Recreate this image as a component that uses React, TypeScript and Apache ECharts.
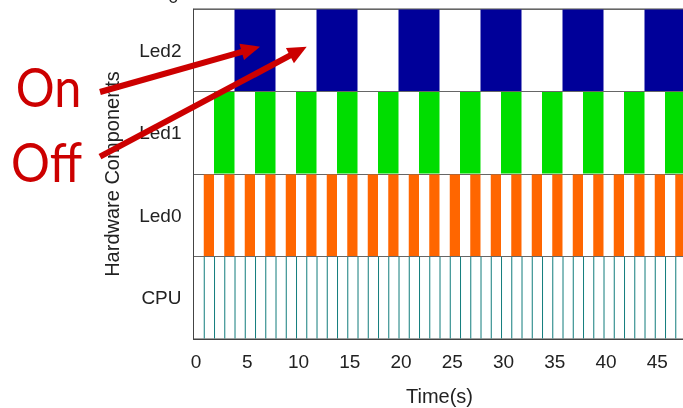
import React, { useEffect, useRef } from "react";
import * as echarts from "echarts";

const components = ["CPU", "Led0", "Led1", "Led2"];
const xTicks = [0, 5, 10, 15, 20, 25, 30, 35, 40, 45];

// on-interval start times (s) and durations
const led0Starts = [1, 3, 5, 7, 9, 11, 13, 15, 17, 19, 21, 23, 25, 27, 29, 31, 33, 35, 37, 39, 41, 43, 45, 47];
const led0Dur = 1;
const led1Starts = [2, 6, 10, 14, 18, 22, 26, 30, 34, 38, 42, 46];
const led1Dur = 2;
const led2Starts = [4, 12, 20, 28, 36, 44];
const led2Dur = 4;
const cpuTimes = [1, 2, 3, 4, 5, 6, 7, 8, 9, 10, 11, 12, 13, 14, 15, 16, 17, 18, 19, 20, 21, 22, 23, 24, 25, 26, 27, 28, 29, 30, 31, 32, 33, 34, 35, 36, 37, 38, 39, 40, 41, 42, 43, 44, 45, 46, 47];
const cpuDur = 0.1;

const colors = { CPU: "#167f7f", Led0: "#ff6600", Led1: "#00dd00", Led2: "#000099" };

function intervals(starts: number[], dur: number, cat: number) {
  return starts.map((s) => [s, s + dur, cat]);
}

function arrow(tail: number[], tip: number[], headLen: number, halfW: number) {
  const dx = tip[0] - tail[0];
  const dy = tip[1] - tail[1];
  const len = Math.sqrt(dx * dx + dy * dy);
  const ux = dx / len, uy = dy / len;
  const bx = tip[0] - ux * headLen, by = tip[1] - uy * headLen;
  const px = -uy, py = ux;
  return [
    { type: "polyline", shape: { points: [tail, [bx + ux * 2, by + uy * 2]] }, style: { stroke: "#cc0000", lineWidth: 6, fill: null }, z: 100 },
    { type: "polygon", shape: { points: [tip, [bx + px * halfW, by + py * halfW], [bx - px * halfW, by - py * halfW]] }, style: { fill: "#cc0000" }, z: 100 },
  ];
}

export default function App() {
  const ref = useRef<HTMLDivElement>(null);
  useEffect(() => {
    const chart = echarts.init(ref.current!, null, { renderer: "svg" });
    const makeSeries = (name: string, data: number[][], minW: number) => ({
      type: "custom",
      name,
      data,
      encode: { x: [0, 1], y: 2 },
      renderItem: (params: any, api: any) => {
        const cat = api.value(2);
        const a = api.coord([api.value(0), cat]);
        const b = api.coord([api.value(1), cat]);
        const h = api.size([0, 1])[1];
        return {
          type: "rect",
          shape: { x: a[0], y: a[1] - h / 2 + 0.5, width: Math.max(b[0] - a[0], minW), height: h - 1 },
          style: { fill: (colors as any)[name] },
        };
      },
    });
    chart.setOption({
      animation: false,
      grid: {
        left: 193.5, top: 9, width: 492, height: 330,
        outerBoundsMode: "none", containLabel: false,
        show: true, borderColor: "#444", borderWidth: 1, backgroundColor: "#fff",
      },
      xAxis: {
        type: "value",
        min: 0,
        max: 48,
        interval: 5,
        axisLine: { show: true, lineStyle: { color: "#444" } },
        axisTick: { show: false },
        splitLine: { show: false },
        axisLabel: {
          margin: 13,
          fontSize: 19,
          color: "#222",
          fontFamily: "Liberation Sans",
          showMaxLabel: false,
          padding: [0, 0, 0, 5],
          formatter: (v: number) => (xTicks.indexOf(v) >= 0 ? String(v) : ""),
        },
        name: "Time(s)",
        nameLocation: "middle",
        nameGap: 47,
        nameTextStyle: { fontSize: 20, color: "#222", fontFamily: "Liberation Sans" },
      },
      yAxis: {
        type: "category",
        data: components,
        axisLine: { show: true, lineStyle: { color: "#444" } },
        axisTick: { show: false },
        splitLine: { show: true, lineStyle: { color: "#666", width: 1 } },
        axisLabel: { margin: 12, fontSize: 19, color: "#222", fontFamily: "Liberation Sans" },
        name: "Hardware Components",
        nameLocation: "middle",
        nameGap: 72,
        nameTextStyle: { fontSize: 20, color: "#222", fontFamily: "Liberation Sans" },
      },
      series: [
        makeSeries("CPU", intervals(cpuTimes, cpuDur, 0), 1),
        makeSeries("Led0", intervals(led0Starts, led0Dur, 1), 1),
        makeSeries("Led1", intervals(led1Starts, led1Dur, 2), 1),
        makeSeries("Led2", intervals(led2Starts, led2Dur, 3), 1),
      ],
      graphic: [
        { type: "text", left: 168, top: -13, style: { text: "0", fontSize: 19, fill: "#222", fontFamily: "Liberation Sans" } },
        { type: "text", x: 48.5, y: 86, scaleX: 0.9, style: { text: "On", fontSize: 54, fill: "#cc0000", fontFamily: "Lato", align: "center", verticalAlign: "middle" }, z: 100 },
        { type: "text", x: 46.5, y: 161, scaleX: 0.9, style: { text: "Off", fontSize: 54, fill: "#cc0000", fontFamily: "Lato", align: "center", verticalAlign: "middle" }, z: 100 },
        ...arrow([100, 92], [260, 46.7], 19, 8.5),
        ...arrow([100, 156.7], [306.7, 46.7], 19, 8.5),
      ],
    });
    return () => chart.dispose();
  }, []);
  return <div ref={ref} style={{ position: "fixed", left: 0, top: 0, width: 683, height: 408 }} />;
}
